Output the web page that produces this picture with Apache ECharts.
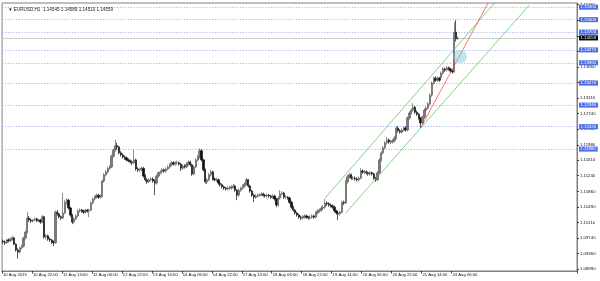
<!DOCTYPE html>
<html><head><meta charset="utf-8">
<script src="https://cdn.jsdelivr.net/npm/echarts@6.0.0/dist/echarts.min.js"></script>
<style>html,body{margin:0;padding:0;background:#fff}#c{width:600px;height:281px}</style>
</head><body><div id="c"></div>
<script>
const titleText = '\u25BC EURUSD,H1  1.14545 1.14589 1.14510 1.14559';
const tickLabels = ['10 Aug 2015','10 Aug 22:00','11 Aug 14:00','12 Aug 06:00','12 Aug 22:00','13 Aug 14:00','14 Aug 06:00','14 Aug 22:00','17 Aug 14:00','18 Aug 06:00','18 Aug 22:00','19 Aug 14:00','20 Aug 06:00','20 Aug 22:00','21 Aug 14:00','24 Aug 06:00'];
const yTicks = [1.08990,1.09360,1.09740,1.10110,1.10490,1.10860,1.11240,1.11610,1.11980,1.12360,1.12740,1.13110,1.13490,1.13860,1.14240,1.14610,1.14990,1.15360];
const levels = [1.15300,1.15000,1.14700,1.14270,1.13960,1.13470,1.12940,1.12420,1.11880];
const bidPrice = 1.14559;
const opens = [
1.0966,1.0964,1.0962,1.0969,1.0967,1.0971,1.0974,1.0959,1.0945,1.0940,
1.0950,1.0954,1.0974,1.0988,1.1022,1.1017,1.1015,1.1017,1.1020,1.1015,
1.1017,1.1012,1.1025,1.0976,1.0979,1.0971,1.0969,1.0964,1.0962,1.1036,
1.1032,1.1025,1.1022,1.1034,1.1060,1.1065,1.1046,1.1029,1.1012,1.1020,
1.1027,1.1039,1.1041,1.1039,1.1036,1.1041,1.1039,1.1041,1.1058,1.1068,
1.1072,1.1077,1.1072,1.1075,1.1111,1.1126,1.1133,1.1142,1.1145,1.1171,
1.1186,1.1196,1.1193,1.1179,1.1174,1.1169,1.1167,1.1162,1.1160,1.1157,
1.1155,1.1162,1.1140,1.1138,1.1138,1.1142,1.1123,1.1114,1.1109,1.1114,
1.1116,1.1111,1.1106,1.1123,1.1131,1.1133,1.1138,1.1135,1.1140,1.1145,
1.1150,1.1155,1.1152,1.1155,1.1155,1.1152,1.1142,1.1147,1.1145,1.1152,
1.1157,1.1150,1.1128,1.1145,1.1162,1.1169,1.1184,1.1162,1.1138,1.1109,
1.1114,1.1126,1.1133,1.1116,1.1114,1.1114,1.1106,1.1102,1.1097,1.1094,
1.1092,1.1094,1.1094,1.1097,1.1099,1.1089,1.1077,1.1089,1.1094,1.1099,
1.1104,1.1114,1.1099,1.1087,1.1077,1.1072,1.1075,1.1077,1.1077,1.1080,
1.1077,1.1075,1.1077,1.1075,1.1072,1.1075,1.1068,1.1053,1.1070,1.1080,
1.1082,1.1072,1.1072,1.1070,1.1060,1.1048,1.1041,1.1034,1.1029,1.1024,
1.1022,1.1024,1.1027,1.1024,1.1022,1.1024,1.1027,1.1024,1.1034,1.1039,
1.1041,1.1046,1.1048,1.1058,1.1056,1.1053,1.1051,1.1048,1.1039,1.1034,
1.1032,1.1036,1.1060,1.1058,1.1109,1.1121,1.1126,1.1118,1.1118,1.1116,
1.1114,1.1118,1.1135,1.1133,1.1133,1.1131,1.1128,1.1131,1.1128,1.1118,
1.1114,1.1131,1.1162,1.1179,1.1191,1.1203,1.1210,1.1205,1.1205,1.1208,
1.1215,1.1239,1.1232,1.1229,1.1234,1.1239,1.1234,1.1263,1.1275,1.1282,
1.1289,1.1277,1.1272,1.1263,1.1251,1.1265,1.1282,1.1287,1.1297,1.1318,
1.1347,1.1359,1.1354,1.1359,1.1360,1.1371,1.1381,1.1379,1.1384,1.1381,
1.1376,1.1374,1.1470,1.14545];
const closes = [
1.0964,1.0962,1.0969,1.0967,1.0971,1.0974,1.0959,1.0945,1.0940,1.0950,
1.0954,1.0974,1.0988,1.1022,1.1017,1.1015,1.1017,1.1020,1.1015,1.1017,
1.1012,1.1025,1.0976,1.0979,1.0971,1.0969,1.0964,1.0962,1.1036,1.1032,
1.1025,1.1022,1.1034,1.1060,1.1065,1.1046,1.1029,1.1012,1.1020,1.1027,
1.1039,1.1041,1.1039,1.1036,1.1041,1.1039,1.1041,1.1058,1.1068,1.1072,
1.1077,1.1072,1.1075,1.1111,1.1126,1.1133,1.1142,1.1145,1.1171,1.1186,
1.1196,1.1193,1.1179,1.1174,1.1169,1.1167,1.1162,1.1160,1.1157,1.1155,
1.1162,1.1140,1.1138,1.1138,1.1142,1.1123,1.1114,1.1109,1.1114,1.1116,
1.1111,1.1106,1.1123,1.1131,1.1133,1.1138,1.1135,1.1140,1.1145,1.1150,
1.1155,1.1152,1.1155,1.1155,1.1152,1.1142,1.1147,1.1145,1.1152,1.1157,
1.1150,1.1128,1.1145,1.1162,1.1169,1.1184,1.1162,1.1138,1.1109,1.1114,
1.1126,1.1133,1.1116,1.1114,1.1114,1.1106,1.1102,1.1097,1.1094,1.1092,
1.1094,1.1094,1.1097,1.1099,1.1089,1.1077,1.1089,1.1094,1.1099,1.1104,
1.1114,1.1099,1.1087,1.1077,1.1072,1.1075,1.1077,1.1077,1.1080,1.1077,
1.1075,1.1077,1.1075,1.1072,1.1075,1.1068,1.1053,1.1070,1.1080,1.1082,
1.1072,1.1072,1.1070,1.1060,1.1048,1.1041,1.1034,1.1029,1.1024,1.1022,
1.1024,1.1027,1.1024,1.1022,1.1024,1.1027,1.1024,1.1034,1.1039,1.1041,
1.1046,1.1048,1.1058,1.1056,1.1053,1.1051,1.1048,1.1039,1.1034,1.1032,
1.1036,1.1060,1.1058,1.1109,1.1121,1.1126,1.1118,1.1118,1.1116,1.1114,
1.1118,1.1135,1.1133,1.1133,1.1131,1.1128,1.1131,1.1128,1.1118,1.1114,
1.1131,1.1162,1.1179,1.1191,1.1203,1.1210,1.1205,1.1205,1.1208,1.1215,
1.1239,1.1232,1.1229,1.1234,1.1239,1.1234,1.1263,1.1275,1.1282,1.1289,
1.1277,1.1272,1.1263,1.1251,1.1265,1.1282,1.1287,1.1297,1.1318,1.1347,
1.1359,1.1354,1.1359,1.1354,1.1371,1.1381,1.1379,1.1384,1.1381,1.1376,
1.1374,1.1470,1.1454,1.14559];
const lows = [
1.0960,1.0957,1.0960,1.0963,1.0964,1.0968,1.0956,1.0941,1.0924,1.0936,
1.0946,1.0951,1.0970,1.0985,1.1012,1.1010,1.1011,1.1014,1.1012,1.1012,
1.1008,1.1009,1.0972,1.0970,1.0967,1.0964,1.0959,1.0954,1.0960,1.1027,
1.1021,1.1017,1.1019,1.1031,1.1054,1.1042,1.1025,1.1007,1.1009,1.1017,
1.1024,1.1035,1.1035,1.1032,1.1033,1.1035,1.1024,1.1038,1.1055,1.1064,
1.1069,1.1068,1.1069,1.1072,1.1107,1.1122,1.1129,1.1138,1.1142,1.1167,
1.1182,1.1188,1.1175,1.1170,1.1165,1.1162,1.1158,1.1156,1.1153,1.1150,
1.1152,1.1136,1.1133,1.1133,1.1135,1.1119,1.1110,1.1104,1.1106,1.1110,
1.1107,1.1077,1.1102,1.1119,1.1127,1.1129,1.1131,1.1131,1.1137,1.1141,
1.1146,1.1148,1.1148,1.1150,1.1148,1.1135,1.1138,1.1141,1.1142,1.1148,
1.1146,1.1124,1.1125,1.1142,1.1158,1.1165,1.1158,1.1134,1.1105,1.1104,
1.1110,1.1122,1.1112,1.1110,1.1109,1.1102,1.1098,1.1093,1.1090,1.1088,
1.1088,1.1090,1.1090,1.1093,1.1085,1.1065,1.1073,1.1085,1.1090,1.1095,
1.1100,1.1095,1.1083,1.1073,1.1060,1.1068,1.1071,1.1073,1.1074,1.1073,
1.1071,1.1071,1.1071,1.1068,1.1068,1.1064,1.1048,1.1050,1.1066,1.1076,
1.1068,1.1067,1.1066,1.1056,1.1044,1.1037,1.1030,1.1025,1.1020,1.1017,
1.1018,1.1020,1.1020,1.1018,1.1018,1.1020,1.1020,1.1021,1.1030,1.1035,
1.1037,1.1042,1.1044,1.1051,1.1049,1.1047,1.1044,1.1035,1.1030,1.1017,
1.1028,1.1033,1.1053,1.1055,1.1105,1.1117,1.1114,1.1113,1.1112,1.1110,
1.1110,1.1115,1.1129,1.1128,1.1127,1.1124,1.1124,1.1124,1.1114,1.1109,
1.1111,1.1128,1.1158,1.1175,1.1187,1.1199,1.1201,1.1200,1.1201,1.1204,
1.1212,1.1228,1.1225,1.1225,1.1230,1.1230,1.1231,1.1259,1.1271,1.1278,
1.1273,1.1268,1.1259,1.1239,1.1247,1.1261,1.1278,1.1283,1.1293,1.1314,
1.1343,1.1350,1.1350,1.1350,1.1356,1.1367,1.1374,1.1375,1.1377,1.1372,
1.1370,1.1372,1.1447,1.14510];
const highs = [
1.0970,1.0968,1.0972,1.0973,1.0975,1.0979,1.0976,1.0961,1.0949,1.0953,
1.0958,1.0977,1.0992,1.1036,1.1027,1.1021,1.1020,1.1023,1.1022,1.1020,
1.1019,1.1029,1.1027,1.0983,1.0982,1.0975,1.0972,1.0968,1.1040,1.1041,
1.1035,1.1028,1.1082,1.1066,1.1070,1.1068,1.1049,1.1032,1.1024,1.1031,
1.1043,1.1045,1.1044,1.1042,1.1044,1.1044,1.1044,1.1062,1.1071,1.1076,
1.1081,1.1080,1.1079,1.1115,1.1130,1.1137,1.1146,1.1150,1.1175,1.1190,
1.1210,1.1203,1.1196,1.1183,1.1178,1.1173,1.1170,1.1166,1.1163,1.1161,
1.1186,1.1165,1.1144,1.1143,1.1146,1.1145,1.1127,1.1118,1.1118,1.1120,
1.1120,1.1115,1.1127,1.1134,1.1137,1.1142,1.1141,1.1144,1.1149,1.1154,
1.1159,1.1159,1.1159,1.1160,1.1158,1.1155,1.1151,1.1151,1.1156,1.1161,
1.1160,1.1153,1.1149,1.1166,1.1173,1.1190,1.1188,1.1165,1.1141,1.1118,
1.1130,1.1137,1.1136,1.1120,1.1119,1.1117,1.1109,1.1105,1.1100,1.1097,
1.1098,1.1099,1.1101,1.1104,1.1102,1.1092,1.1093,1.1098,1.1103,1.1108,
1.1118,1.1116,1.1102,1.1090,1.1081,1.1079,1.1081,1.1081,1.1084,1.1083,
1.1080,1.1081,1.1080,1.1078,1.1079,1.1078,1.1071,1.1074,1.1089,1.1087,
1.1085,1.1077,1.1075,1.1073,1.1063,1.1051,1.1044,1.1037,1.1032,1.1028,
1.1028,1.1031,1.1030,1.1027,1.1028,1.1031,1.1030,1.1038,1.1043,1.1045,
1.1050,1.1053,1.1068,1.1062,1.1060,1.1057,1.1055,1.1052,1.1042,1.1038,
1.1040,1.1064,1.1064,1.1114,1.1126,1.1131,1.1129,1.1123,1.1122,1.1120,
1.1122,1.1142,1.1139,1.1138,1.1137,1.1134,1.1135,1.1134,1.1131,1.1121,
1.1135,1.1166,1.1183,1.1195,1.1207,1.1217,1.1214,1.1210,1.1212,1.1219,
1.1243,1.1243,1.1236,1.1238,1.1243,1.1243,1.1267,1.1279,1.1286,1.1299,
1.1292,1.1281,1.1275,1.1266,1.1269,1.1286,1.1291,1.1301,1.1322,1.1351,
1.1363,1.1363,1.1363,1.1362,1.1375,1.1385,1.1385,1.1388,1.1387,1.1384,
1.1380,1.1494,1.1499,1.14589];
const upperChannel = [[172, 1.1070], [263, 1.1543]];
const lowerChannel = [[183, 1.1034], [281, 1.1535]];
const redTrend = [[223, 1.1239], [259, 1.1540]];
const marker = [[244, 1.1411]];
const yMin = 1.08942, yMax = 1.15401;
const totalSlots = 307;

// hourly bar times (weekends skipped), extended into the empty future area
const barTimes = [];
let t = Date.UTC(2015, 7, 10, 6);
while (barTimes.length < totalSlots) {
  const d = new Date(t); const wd = d.getUTCDay();
  if (wd !== 0 && wd !== 6) barTimes.push(d.toISOString().slice(0, 16));
  t += 3600000;
}
const candleRows = closes.map((c, i) => [opens[i], c, lows[i], highs[i]]);
const showTick = (idx) => idx % 16 === 0 && idx / 16 < tickLabels.length;
const FONT = 'Liberation Sans';

const levelLines = levels.map(v => ({
  yAxis: v,
  lineStyle: { color: '#93a5ee', type: [1.2, 1.6], width: 0.8 },
  label: { show: true, position: 'end', formatter: v.toFixed(5), color: '#fff', backgroundColor: '#4d6fe6',
           fontSize: 4.3, fontFamily: FONT, padding: [0.5, 2, 0.5, 1.5], distance: 2 }
}));
levelLines.push({
  yAxis: bidPrice,
  lineStyle: { color: '#cfcfcf', type: 'solid', width: 1 },
  label: { show: true, position: 'end', formatter: bidPrice.toFixed(5), color: '#fff', backgroundColor: '#000',
           fontSize: 4.3, fontFamily: FONT, padding: [0.5, 2, 0.5, 1.5], distance: 2 }
});

const chart = echarts.init(document.getElementById('c'), null, { renderer: 'canvas' });
chart.setOption({
  animation: false,
  backgroundColor: '#ffffff',
  title: { text: titleText, left: 3, top: 2, textStyle: { fontSize: 4.6, fontWeight: 'normal', color: '#222', fontFamily: FONT } },
  grid: { left: 2, right: 23, top: 3, bottom: 10, show: true, borderColor: '#808080', borderWidth: 1 },
  xAxis: {
    type: 'category', data: barTimes, boundaryGap: true,
    axisLine: { show: true, lineStyle: { color: '#808080', width: 1 } },
    axisTick: { show: true, interval: showTick, length: 2.5, lineStyle: { color: '#000', width: 0.7 } },
    axisLabel: { interval: showTick, formatter: (v, idx) => showTick(idx) ? tickLabels[idx / 16] : '',
                 fontSize: 4.2, fontFamily: FONT, color: '#111', align: 'left', margin: 2 },
    splitLine: { show: false }
  },
  yAxis: {
    type: 'value', position: 'right', min: yMin, max: yMax,
    axisLine: { show: true, lineStyle: { color: '#808080', width: 1 } },
    axisTick: { show: true, customValues: yTicks, length: 2, lineStyle: { color: '#000', width: 0.7 } },
    axisLabel: { customValues: yTicks, formatter: v => v.toFixed(5), fontSize: 4.3, fontFamily: FONT, color: '#111', margin: 3 },
    splitLine: { show: false }
  },
  series: [
    {
      type: 'candlestick', data: candleRows, barWidth: 1.8, z: 3,
      itemStyle: { color: '#7a7a7a', color0: '#111111', borderColor: '#5e5e5e', borderColor0: '#111111', borderWidth: 0.7 },
      markLine: { symbol: ['none', 'none'], silent: true, animation: false, precision: 5, z: 2, data: levelLines }
    },
    { type: 'line', data: upperChannel, symbol: 'none', silent: true, z: 4, lineStyle: { color: '#4fbf4f', width: 0.7 } },
    { type: 'line', data: lowerChannel, symbol: 'none', silent: true, z: 4, lineStyle: { color: '#4fbf4f', width: 0.7 } },
    { type: 'line', data: redTrend, symbol: 'none', silent: true, z: 4, lineStyle: { color: '#ff3a3a', width: 0.7 } },
    { type: 'scatter', data: marker, symbol: 'circle', symbolSize: [14, 13], silent: true, z: 5,
      itemStyle: { color: 'rgba(120,200,222,0.6)' } }
  ]
});
</script></body></html>
